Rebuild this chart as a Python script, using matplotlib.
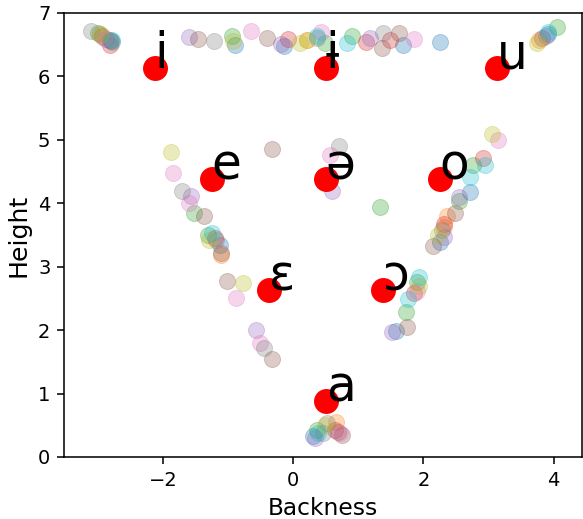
import matplotlib
matplotlib.use("Agg")
import numpy as np
from matplotlib import pyplot as plt

# Reference vowel positions (backness, height)
vowels = ["i", "ɨ", "u", "e", "ə", "o", "ɛ", "ɔ", "a"]
vowel_backness = [-2.125, 0.5, 3.125, -1.25, 0.5, 2.25, -0.375, 1.375, 0.5]
vowel_height = [6.125, 6.125, 6.125, 4.375, 4.375, 4.375, 2.625, 2.625, 0.875]

# Individual speaker tokens, one list per speaker (tab10 colour order)
spk_backness = [
    [-2.80, -0.89, -0.14, 1.68, 2.26, 3.92, -1.12, 2.72, 2.26, 1.58, 0.31],
    [-2.97, 0.22, 3.78, -1.11, 2.37, 2.31, 0.66],
    [-3.00, -0.94, 0.49, 0.91, 4.05, -1.52, -1.31, 1.34, 2.77, 2.55, 1.91, 1.74, 0.37],
    [-2.82, -0.08, 1.12, 1.49, -1.20, 2.92, 2.32, 1.85, 0.65],
    [-2.88, -1.60, -0.18, 1.18, 3.88, -1.57, -0.57, 0.60, 2.55, 2.31, 1.52, 0.34],
    [-2.94, -2.82, -1.46, -0.40, 1.37, 1.63, 3.83, -1.37, -1.11, -1.02, -0.32,
     -0.32, 2.48, 2.15, 1.75, 0.69, 0.75],
    [-2.91, -0.65, 0.43, 1.85, -1.85, -1.60, -0.88, -0.51, 0.57, 3.15, 1.91, 0.72],
    [-3.11, -2.78, -1.22, 1.38, 0.37, -1.71, -1.18, -0.45, 0.71, 2.29, 0.52, 0.46],
    [-2.95, -0.92, 0.11, 0.22, 3.75, -1.88, -1.29, -0.77, 3.06, 2.23, 1.94, 0.49],
    [-2.78, 0.37, 0.83, 3.91, -1.25, 2.94, 2.72, 1.77, 1.94, 0.38],
]
spk_height = [
    [6.56, 6.50, 6.48, 6.50, 6.55, 6.67, 3.34, 4.18, 3.39, 1.99, 0.33],
    [6.67, 6.58, 6.58, 3.19, 3.80, 3.63, 0.55],
    [6.69, 6.64, 6.53, 6.64, 6.78, 3.85, 3.50, 3.94, 4.61, 4.04, 2.76, 2.29, 0.43],
    [6.50, 6.59, 6.55, 6.58, 3.45, 4.72, 3.68, 2.59, 0.43],
    [6.59, 6.62, 6.51, 6.61, 6.64, 4.12, 2.00, 4.20, 4.10, 3.47, 1.97, 0.30],
    [6.64, 6.58, 6.59, 6.61, 6.45, 6.69, 6.61, 3.80, 3.22, 2.78, 1.55,
     4.86, 3.85, 3.33, 2.05, 0.39, 0.35],
    [6.61, 6.72, 6.70, 6.59, 4.48, 4.01, 2.51, 1.80, 4.76, 5.00, 2.62, 0.38],
    [6.72, 6.55, 6.56, 6.69, 6.61, 4.20, 3.42, 1.72, 4.91, 3.58, 0.54, 0.38],
    [6.66, 6.56, 6.53, 6.58, 6.53, 4.81, 3.42, 2.74, 5.09, 3.50, 2.70, 0.50],
    [6.58, 6.64, 6.53, 6.70, 3.53, 4.61, 4.42, 2.49, 2.84, 0.38],
]

fig = plt.figure(figsize=(583 / 140, 519 / 140), dpi=140)
ax = fig.add_axes([0.1098, 0.1195, 0.8877, 0.8555])

colors = plt.get_cmap("tab10").colors
for k, (bx, hy) in enumerate(zip(spk_backness, spk_height)):
    ax.scatter(bx, hy, s=68, color=colors[k], alpha=0.3, linewidths=0.5)

ax.scatter(vowel_backness, vowel_height, s=140, color="red", zorder=3)
for v, bx, hy in zip(vowels, vowel_backness, vowel_height):
    ax.text(bx, hy, v, fontsize=25, zorder=4)

ax.set_xlim(-3.52, 4.43)
ax.set_ylim(0, 7)
ax.set_xticks([-2, 0, 2, 4])
ax.set_xlabel("Backness", fontsize=12)
ax.set_ylabel("Height", fontsize=13)

fig.savefig("out.png", dpi=140)
